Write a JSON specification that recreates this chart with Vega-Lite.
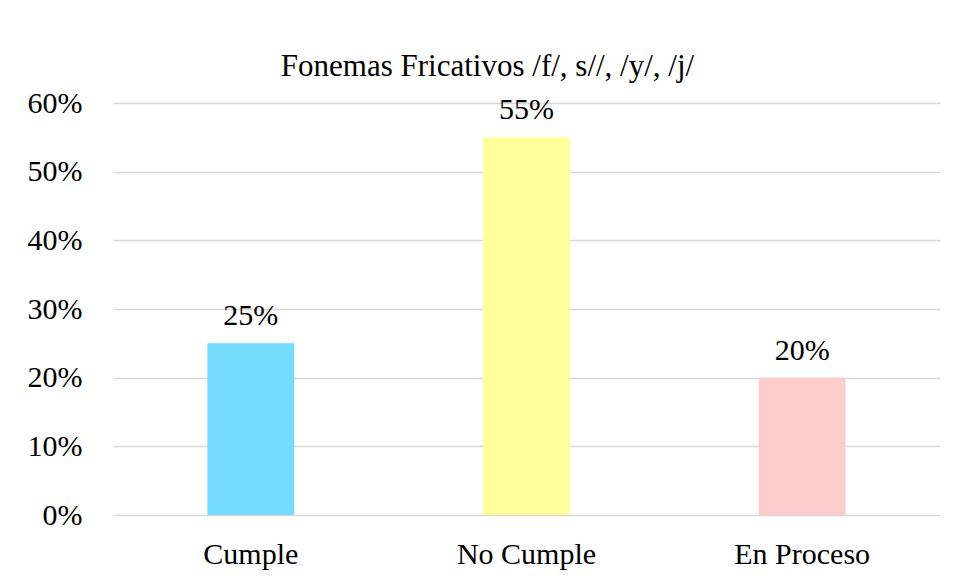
{
  "$schema": "https://vega.github.io/schema/vega-lite/v6.json",
  "autosize": "none",
  "width": 827,
  "height": 412,
  "padding": {"left": 113, "top": 103, "right": 20, "bottom": 65},
  "background": "white",
  "title": {
    "text": "Gráfico 23",
    "subtitle": "Fonemas Fricativos /f/, s//, /y/, /j/",
    "font": "Liberation Serif",
    "fontSize": 30,
    "fontWeight": "bold",
    "color": "black",
    "subtitleFont": "Liberation Serif",
    "subtitleFontSize": 31,
    "subtitleColor": "black",
    "subtitlePadding": 60,
    "anchor": "middle",
    "offset": 6,
    "dx": -39
  },
  "data": {
    "values": [
      {"categoria": "Cumple", "porcentaje": 0.25},
      {"categoria": "No Cumple", "porcentaje": 0.55},
      {"categoria": "En Proceso", "porcentaje": 0.20}
    ]
  },
  "encoding": {
    "x": {
      "field": "categoria",
      "type": "nominal",
      "sort": null,
      "scale": {"paddingInner": 0.685, "paddingOuter": 0.3425},
      "axis": {
        "title": null,
        "labelAngle": 0,
        "labelFont": "Liberation Serif",
        "labelFontSize": 30,
        "labelColor": "black",
        "labelPadding": 24,
        "ticks": false,
        "domain": false
      }
    },
    "y": {
      "field": "porcentaje",
      "type": "quantitative",
      "scale": {"domain": [0, 0.6], "nice": false},
      "axis": {
        "title": null,
        "format": ".0%",
        "values": [0, 0.1, 0.2, 0.3, 0.4, 0.5, 0.6],
        "labelFont": "Liberation Serif",
        "labelFontSize": 30,
        "labelColor": "black",
        "labelPadding": 31,
        "ticks": false,
        "domain": false,
        "grid": true,
        "gridColor": "#d9d9d9",
        "gridWidth": 1.5
      }
    }
  },
  "layer": [
    {
      "mark": {"type": "bar"},
      "encoding": {
        "color": {
          "field": "categoria",
          "type": "nominal",
          "scale": {"domain": ["Cumple", "No Cumple", "En Proceso"], "range": ["#75DBFF", "#FFFF99", "#FFCCCC"]},
          "legend": null
        }
      }
    },
    {
      "mark": {"type": "text", "font": "Liberation Serif", "fontSize": 30, "color": "black", "baseline": "alphabetic", "dy": -18},
      "encoding": {
        "text": {"field": "porcentaje", "type": "quantitative", "format": ".0%"}
      }
    }
  ],
  "config": {"view": {"stroke": null}}
}
